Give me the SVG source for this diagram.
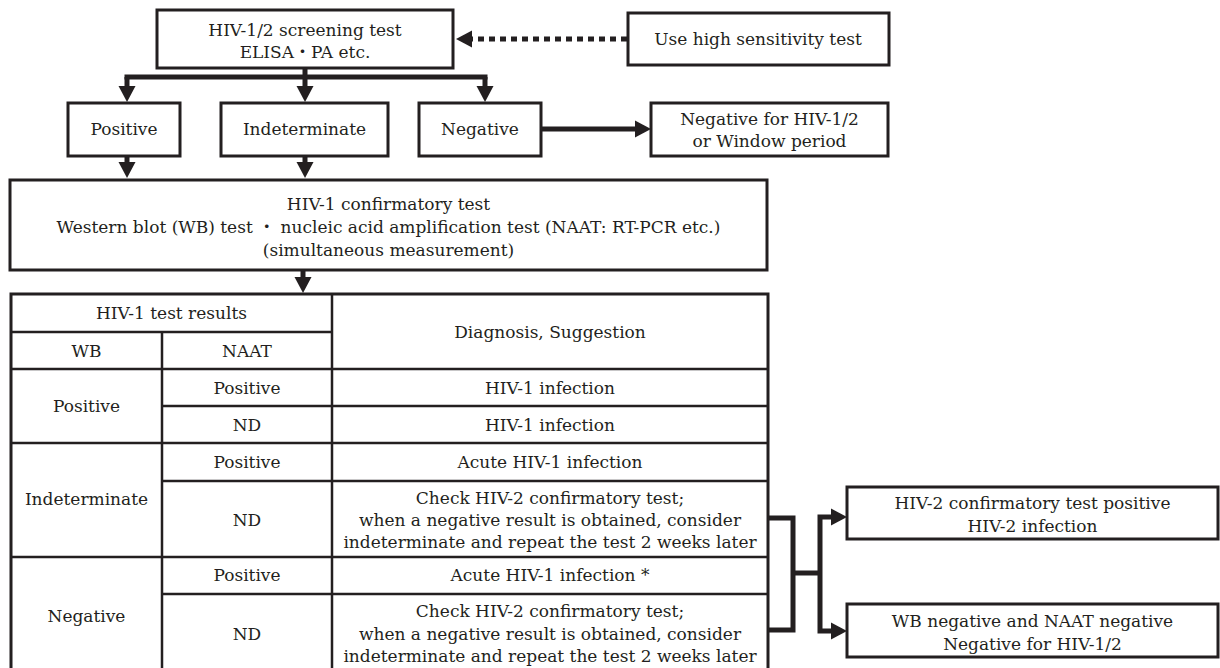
<svg xmlns="http://www.w3.org/2000/svg" width="1220" height="668" viewBox="0 0 1220 668">
<style>
.box{fill:#fff;stroke:#231f20;stroke-width:3}
.t{font-family:"DejaVu Serif","Noto Sans CJK JP",serif;font-size:17px;fill:#231f20;text-anchor:middle}
.conn{stroke:#231f20;stroke-width:5;fill:none}
.dot{stroke:#231f20;stroke-width:5;fill:none;stroke-dasharray:6 5}
.grid{stroke:#231f20;stroke-width:2.5;fill:none}
</style>
<defs>
<marker id="ah" markerUnits="userSpaceOnUse" markerWidth="16" markerHeight="17" refX="0" refY="8.5" orient="auto" overflow="visible">
<path d="M0,0 L16,8.5 L0,17 z" fill="#231f20"/>
</marker>
</defs>
<rect width="1220" height="668" fill="#fff"/>

<g id="connectors">
<path class="dot" d="M627,39 H472" marker-end="url(#ah)"/>
<path class="conn" d="M305,68 V86" marker-end="url(#ah)"/>
<path class="conn" d="M124.5,77 H487.5"/>
<path class="conn" d="M127,77 V86" marker-end="url(#ah)"/>
<path class="conn" d="M485,77 V86" marker-end="url(#ah)"/>
<path class="conn" d="M542,129 H635" marker-end="url(#ah)"/>
<path class="conn" d="M127,156 V162" marker-end="url(#ah)"/>
<path class="conn" d="M305,156 V162" marker-end="url(#ah)"/>
<path class="conn" d="M303,270 V277" marker-end="url(#ah)"/>
<path class="conn" d="M768,518 H793 V630 H768"/>
<path class="conn" d="M793,573 H820"/>
<path class="conn" d="M820,573 V517 H831" marker-end="url(#ah)"/>
<path class="conn" d="M820,573 V631 H831" marker-end="url(#ah)"/>
</g>

<g id="screening">
<rect class="box" x="157" y="10" width="296" height="58"/>
<text class="t" x="305" y="36">HIV-1/2 screening test</text>
<text class="t" x="305" y="58">ELISA・PA etc.</text>
</g>

<g id="high-sensitivity">
<rect class="box" x="628" y="13" width="261" height="52"/>
<text class="t" x="758" y="45">Use high sensitivity test</text>
</g>

<g id="positive">
<rect class="box" x="68" y="103" width="112" height="53"/>
<text class="t" x="124" y="135">Positive</text>
</g>

<g id="indeterminate">
<rect class="box" x="221" y="103" width="167" height="53"/>
<text class="t" x="304.5" y="135">Indeterminate</text>
</g>

<g id="negative">
<rect class="box" x="419" y="103" width="122" height="53"/>
<text class="t" x="480" y="135">Negative</text>
</g>

<g id="window">
<rect class="box" x="651" y="103" width="237" height="53"/>
<text class="t" x="769.5" y="125">Negative for HIV-1/2</text>
<text class="t" x="769.5" y="147">or Window period</text>
</g>

<g id="confirmatory">
<rect class="box" x="10" y="180" width="757" height="90"/>
<text class="t" x="388.5" y="210">HIV-1 confirmatory test</text>
<text class="t" x="388.5" y="233">Western blot (WB) test ・ nucleic acid amplification test (NAAT: RT-PCR etc.)</text>
<text class="t" x="388.5" y="256">(simultaneous measurement)</text>
</g>

<g id="table">
<rect x="11" y="294" width="757" height="382" fill="#fff" stroke="#231f20" stroke-width="3"/>
<path class="grid" d="M332,294 V676 M162,332 V676 M11,332 H332 M11,369 H768 M162,406 H768 M11,443 H768 M162,481 H768 M11,557 H768 M162,594 H768"/>
<text class="t" x="171.5" y="319">HIV-1 test results</text>
<text class="t" x="86.5" y="357">WB</text>
<text class="t" x="247" y="357">NAAT</text>
<text class="t" x="550" y="337.5">Diagnosis, Suggestion</text>
<text class="t" x="86.5" y="412">Positive</text>
<text class="t" x="247" y="393.5">Positive</text>
<text class="t" x="550" y="393.5">HIV-1 infection</text>
<text class="t" x="247" y="430.5">ND</text>
<text class="t" x="550" y="430.5">HIV-1 infection</text>
<text class="t" x="86.5" y="505">Indeterminate</text>
<text class="t" x="247" y="468">Positive</text>
<text class="t" x="550" y="468">Acute HIV-1 infection</text>
<text class="t" x="247" y="526">ND</text>
<text class="t" x="550" y="504">Check HIV-2 confirmatory test;</text>
<text class="t" x="550" y="526">when a negative result is obtained, consider</text>
<text class="t" x="550" y="548">indeterminate and repeat the test 2 weeks later</text>
<text class="t" x="86.5" y="622">Negative</text>
<text class="t" x="247" y="581">Positive</text>
<text class="t" x="550" y="581">Acute HIV-1 infection *</text>
<text class="t" x="247" y="640">ND</text>
<text class="t" x="550" y="617">Check HIV-2 confirmatory test;</text>
<text class="t" x="550" y="640">when a negative result is obtained, consider</text>
<text class="t" x="550" y="662">indeterminate and repeat the test 2 weeks later</text>
</g>

<g id="hiv2-positive">
<rect class="box" x="847" y="487" width="371" height="52"/>
<text class="t" x="1032.5" y="509">HIV-2 confirmatory test positive</text>
<text class="t" x="1032.5" y="532">HIV-2 infection</text>
</g>

<g id="hiv-negative">
<rect class="box" x="847" y="604" width="371" height="53"/>
<text class="t" x="1032.5" y="627">WB negative and NAAT negative</text>
<text class="t" x="1032.5" y="650">Negative for HIV-1/2</text>
</g>
</svg>
